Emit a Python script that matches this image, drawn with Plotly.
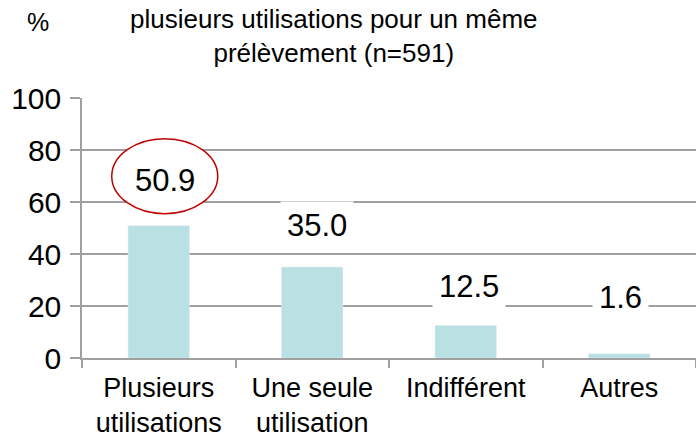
import plotly.graph_objects as go

categories = ["Plusieurs<br>utilisations", "Une seule<br>utilisation", "Indifférent", "Autres"]
values = [50.9, 35.0, 12.5, 1.6]
value_labels = ["50.9", "35.0", "12.5", "1.6"]
title_lines = "plusieurs utilisations pour un même<br>prélèvement (n=591)"
y_ticks = [0, 20, 40, 60, 80, 100]

FONT = "Liberation Sans, Arial, sans-serif"
label_shift = [45, 42, 39, 56]
label_xshift = [6, 5, 3, 1]

W, H = 696, 437
ML, MR, MT, MB = 82, 0, 98, 79
PW, PH = W - ML - MR, H - MT - MB


def px_x(x):
    return (x - ML) / PW


def px_y(y):
    return (H - MB - y) / PH


fig = go.Figure()
fig.add_trace(go.Bar(
    x=categories, y=values, marker_color="#B9E0E3", width=0.4,
    hoverinfo="skip",
))

fig.add_shape(
    type="circle", xref="x", yref="y",
    xsizemode="pixel", ysizemode="pixel",
    xanchor=0, yanchor=values[0],
    x0=-47, x1=59, y0=12, y1=87,
    line=dict(color="#C00000", width=1.5),
    fillcolor="white",
    layer="above",
)

for i, (c, v, t) in enumerate(zip(categories, values, value_labels)):
    fig.add_annotation(
        x=c, y=v, text=t, showarrow=False, xref="x", yref="y",
        yshift=label_shift[i], xshift=label_xshift[i],
        font=dict(family=FONT, size=31, color="black"),
        bgcolor="rgba(255,255,255,0)" if i == 0 else "white", borderpad=6,
    )

fig.add_annotation(
    text=title_lines, x=px_x(334), y=px_y(36), xref="paper", yref="paper",
    xanchor="center", yanchor="middle",
    showarrow=False, font=dict(family=FONT, size=26, color="black"),
)
fig.add_annotation(
    text="%", x=px_x(38), y=px_y(22), xref="paper", yref="paper",
    xanchor="center", yanchor="middle", showarrow=False,
    font=dict(family=FONT, size=25, color="black"),
)

fig.update_layout(
    width=W, height=H,
    margin=dict(l=ML, r=MR, t=MT, b=MB, autoexpand=False),
    paper_bgcolor="white", plot_bgcolor="white",
    showlegend=False, bargap=0.6,
    font=dict(family=FONT, color="black"),
)
fig.update_xaxes(
    automargin=False,
    tickfont=dict(family=FONT, size=27, color="black"),
    showline=True, linecolor="#A0A0A0", linewidth=1.5,
    ticks="outside", tickson="boundaries", ticklen=8, tickcolor="#A0A0A0", tickwidth=1.5,
    ticklabelstandoff=5,
    showgrid=False,
)
fig.update_yaxes(
    automargin=False,
    range=[0, 100], tickvals=y_ticks,
    tickfont=dict(family=FONT, size=30, color="black"),
    showline=True, linecolor="#A0A0A0", linewidth=1.5,
    ticks="outside", ticklen=10, tickcolor="#A0A0A0", tickwidth=1.5,
    ticklabelstandoff=3,
    showgrid=True, gridcolor="#A0A0A0", gridwidth=1.5,
    zeroline=False,
)

fig.write_html(
    "out.html",
    config={"displayModeBar": False},
    post_script="document.body.style.margin='0';document.body.style.overflow='hidden';",
)
